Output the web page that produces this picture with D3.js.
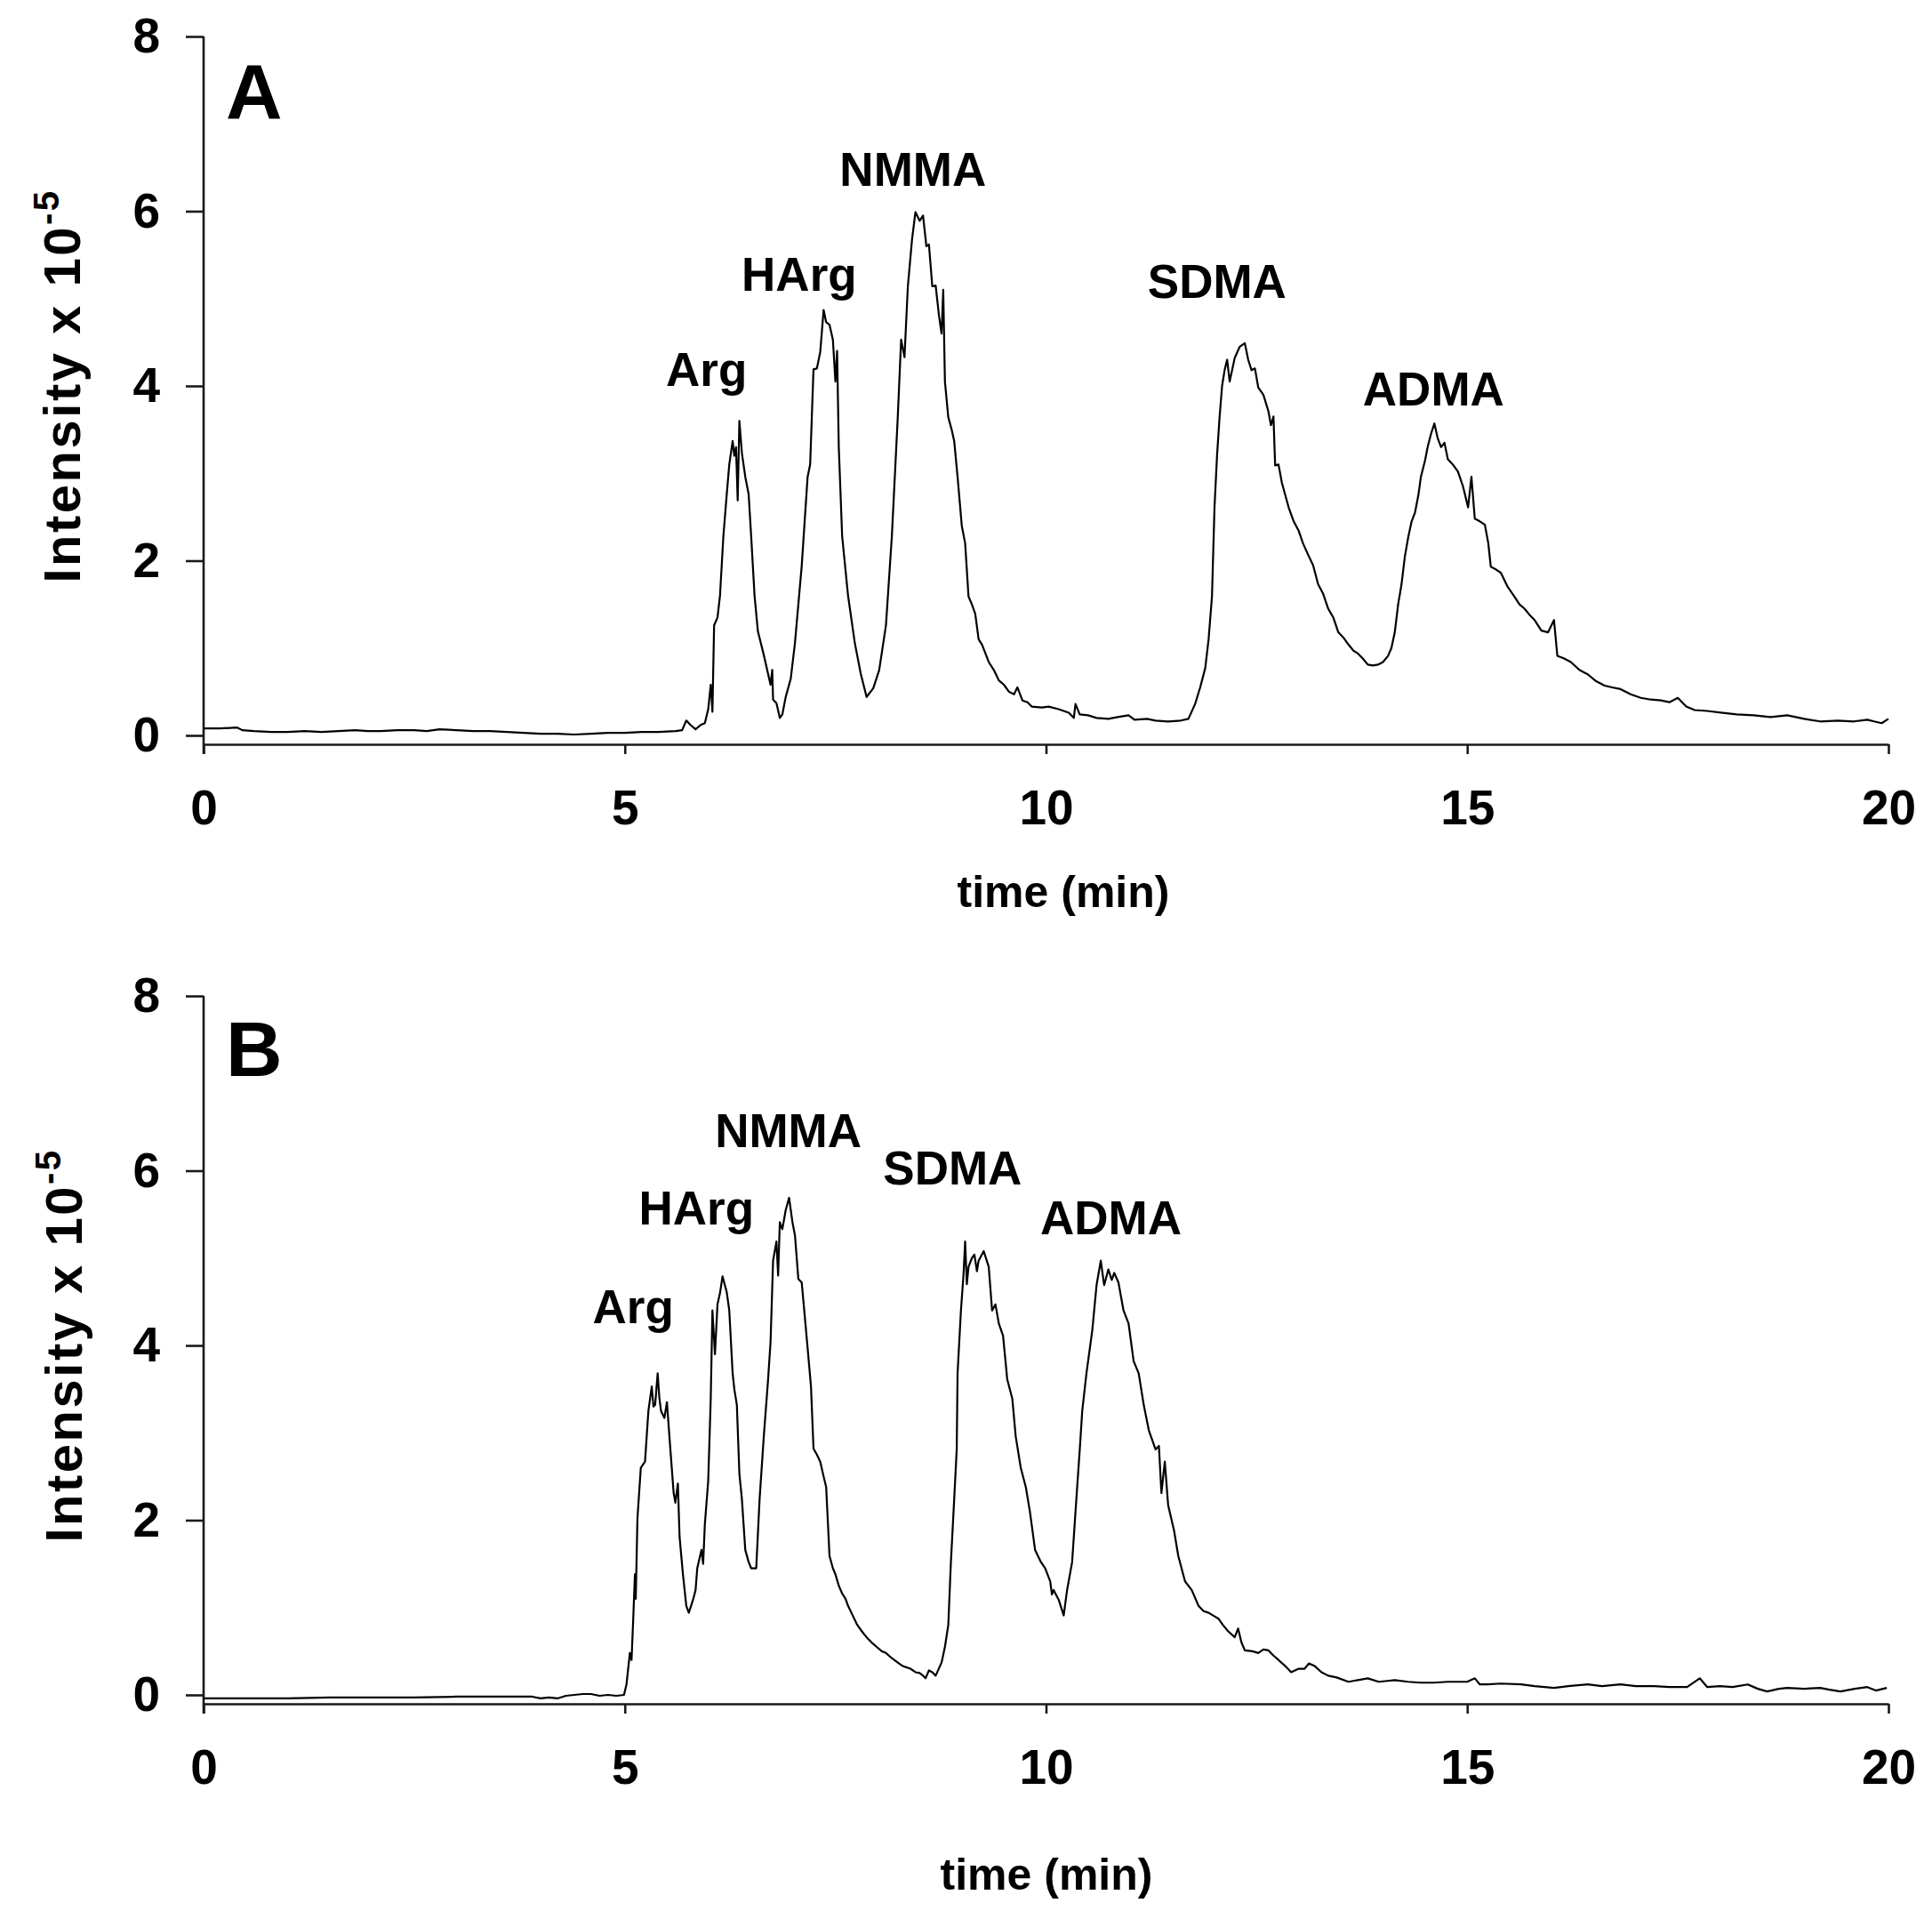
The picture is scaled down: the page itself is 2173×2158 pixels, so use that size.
<!DOCTYPE html>
<html>
<head>
<meta charset="utf-8">
<script src="https://cdn.jsdelivr.net/npm/d3@7"></script>
<style>
    body { margin: 0; background: #fff; }
    svg text { font-family: "Liberation Sans", Arial, Helvetica, sans-serif; font-weight: bold; fill: #000; }
</style>
</head>
<body>
<script>
// chromatogram A: [time (min), intensity x 10^-5]
var traceA = [[0,0.08],[0.2,0.08],[0.4,0.09],[0.46,0.06],[0.6,0.05],[0.8,0.04],[1.0,0.04],[1.2,0.05],[1.4,0.04],[1.6,0.05],[1.8,0.06],[1.95,0.05],[2.1,0.05],[2.3,0.06],[2.5,0.06],[2.65,0.05],[2.8,0.07],[3.0,0.06],[3.2,0.05],[3.4,0.05],[3.6,0.04],[3.8,0.03],[4.0,0.02],[4.2,0.02],[4.4,0.01],[4.6,0.02],[4.8,0.03],[5.0,0.03],[5.2,0.04],[5.4,0.04],[5.6,0.05],[5.68,0.06],[5.73,0.17],[5.78,0.12],[5.84,0.07],[5.9,0.12],[5.95,0.14],[5.99,0.3],[6.02,0.58],[6.04,0.27],[6.06,1.26],[6.1,1.35],[6.13,1.6],[6.17,2.28],[6.21,2.76],[6.24,3.1],[6.28,3.37],[6.3,3.2],[6.32,3.3],[6.34,2.69],[6.36,3.6],[6.39,3.23],[6.43,2.96],[6.47,2.76],[6.5,2.28],[6.54,1.6],[6.58,1.19],[6.65,0.92],[6.73,0.58],[6.75,0.75],[6.76,0.41],[6.8,0.37],[6.84,0.2],[6.87,0.24],[6.91,0.44],[6.97,0.65],[7.02,1.06],[7.1,1.94],[7.17,2.96],[7.2,3.1],[7.24,4.19],[7.28,4.2],[7.32,4.39],[7.36,4.87],[7.39,4.73],[7.43,4.7],[7.47,4.53],[7.5,4.05],[7.52,4.4],[7.54,3.3],[7.58,2.28],[7.65,1.6],[7.73,1.06],[7.8,0.71],[7.87,0.44],[7.95,0.54],[8.02,0.75],[8.1,1.26],[8.17,2.28],[8.24,3.64],[8.28,4.53],[8.32,4.33],[8.36,5.14],[8.41,5.68],[8.45,5.99],[8.5,5.89],[8.54,5.95],[8.58,5.6],[8.61,5.62],[8.65,5.14],[8.69,5.15],[8.73,4.8],[8.76,4.6],[8.78,5.1],[8.8,4.05],[8.84,3.64],[8.88,3.5],[8.91,3.37],[8.95,2.96],[9.0,2.4],[9.04,2.2],[9.08,1.59],[9.12,1.5],[9.16,1.39],[9.2,1.1],[9.24,1.04],[9.32,0.84],[9.38,0.75],[9.44,0.63],[9.5,0.58],[9.56,0.5],[9.62,0.47],[9.66,0.55],[9.72,0.4],[9.78,0.38],[9.83,0.33],[9.95,0.32],[10.03,0.33],[10.15,0.3],[10.27,0.26],[10.33,0.2],[10.35,0.36],[10.4,0.24],[10.5,0.23],[10.6,0.2],[10.74,0.19],[10.85,0.21],[10.98,0.23],[11.05,0.18],[11.2,0.19],[11.3,0.17],[11.45,0.16],[11.6,0.17],[11.69,0.19],[11.77,0.36],[11.83,0.55],[11.89,0.77],[11.93,1.1],[11.97,1.59],[12.0,2.61],[12.03,3.2],[12.06,3.64],[12.09,4.0],[12.12,4.18],[12.15,4.3],[12.18,4.05],[12.24,4.32],[12.3,4.45],[12.36,4.49],[12.4,4.3],[12.44,4.18],[12.48,4.2],[12.52,3.98],[12.58,3.9],[12.64,3.71],[12.67,3.55],[12.7,3.65],[12.72,3.09],[12.76,3.1],[12.8,2.89],[12.84,2.75],[12.88,2.61],[12.94,2.45],[13.0,2.34],[13.05,2.2],[13.11,2.07],[13.17,1.95],[13.23,1.73],[13.29,1.62],[13.35,1.45],[13.41,1.35],[13.47,1.18],[13.53,1.12],[13.59,1.04],[13.65,0.97],[13.7,0.94],[13.76,0.88],[13.82,0.81],[13.88,0.8],[13.94,0.81],[14.0,0.84],[14.06,0.91],[14.1,1.0],[14.14,1.18],[14.18,1.5],[14.22,1.73],[14.26,2.05],[14.3,2.27],[14.34,2.45],[14.38,2.55],[14.42,2.75],[14.45,2.96],[14.5,3.15],[14.53,3.3],[14.57,3.45],[14.61,3.57],[14.65,3.4],[14.69,3.3],[14.73,3.35],[14.77,3.16],[14.83,3.1],[14.89,3.02],[14.95,2.85],[15.01,2.61],[15.05,2.96],[15.09,2.48],[15.15,2.45],[15.21,2.41],[15.25,2.2],[15.28,1.93],[15.34,1.9],[15.4,1.86],[15.48,1.7],[15.56,1.59],[15.62,1.5],[15.68,1.45],[15.74,1.38],[15.8,1.32],[15.88,1.2],[15.96,1.18],[16.03,1.32],[16.07,0.91],[16.15,0.88],[16.23,0.84],[16.33,0.75],[16.43,0.7],[16.53,0.62],[16.63,0.57],[16.72,0.55],[16.82,0.53],[16.94,0.47],[17.06,0.43],[17.18,0.41],[17.3,0.4],[17.4,0.38],[17.5,0.43],[17.6,0.33],[17.7,0.29],[17.85,0.28],[18.01,0.26],[18.2,0.24],[18.4,0.23],[18.6,0.21],[18.8,0.23],[19.0,0.19],[19.19,0.16],[19.4,0.17],[19.59,0.16],[19.75,0.18],[19.83,0.16],[19.92,0.14],[20.0,0.19]];

// chromatogram B
var traceB = [[0,-0.04],[0.5,-0.04],[1.0,-0.04],[1.5,-0.03],[2.0,-0.03],[2.5,-0.03],[3.0,-0.02],[3.5,-0.02],[3.9,-0.02],[4.0,-0.04],[4.1,-0.03],[4.2,-0.04],[4.3,-0.01],[4.4,0.0],[4.5,0.01],[4.6,0.01],[4.7,-0.01],[4.8,0.0],[4.9,-0.01],[4.99,0.0],[5.02,0.12],[5.06,0.48],[5.08,0.4],[5.1,0.87],[5.12,1.38],[5.13,1.1],[5.15,2.02],[5.19,2.6],[5.24,2.67],[5.28,3.25],[5.32,3.53],[5.34,3.3],[5.36,3.32],[5.39,3.68],[5.41,3.4],[5.43,3.25],[5.47,3.17],[5.5,3.35],[5.54,2.82],[5.58,2.31],[5.6,2.2],[5.63,2.42],[5.65,1.81],[5.69,1.38],[5.73,1.02],[5.76,0.94],[5.81,1.09],[5.84,1.2],[5.86,1.45],[5.91,1.66],[5.93,1.5],[5.95,1.95],[5.99,2.45],[6.02,3.39],[6.04,4.4],[6.07,3.9],[6.1,4.47],[6.13,4.6],[6.16,4.79],[6.21,4.61],[6.24,4.4],[6.28,3.68],[6.3,3.5],[6.33,3.32],[6.36,2.53],[6.39,2.24],[6.43,1.66],[6.47,1.52],[6.5,1.45],[6.56,1.45],[6.6,2.24],[6.65,2.96],[6.7,3.6],[6.73,4.04],[6.76,4.97],[6.8,5.19],[6.82,4.8],[6.84,5.41],[6.87,5.33],[6.91,5.55],[6.95,5.69],[6.99,5.41],[7.02,5.26],[7.06,4.76],[7.1,4.72],[7.13,4.4],[7.17,3.97],[7.21,3.53],[7.24,2.82],[7.28,2.75],[7.32,2.67],[7.36,2.5],[7.39,2.38],[7.43,1.59],[7.47,1.45],[7.5,1.38],[7.54,1.25],[7.58,1.16],[7.62,1.1],[7.65,1.02],[7.7,0.92],[7.76,0.8],[7.82,0.72],[7.87,0.66],[7.93,0.6],[7.99,0.55],[8.05,0.5],[8.1,0.48],[8.17,0.42],[8.24,0.37],[8.3,0.33],[8.39,0.3],[8.45,0.26],[8.5,0.25],[8.54,0.22],[8.57,0.19],[8.61,0.28],[8.65,0.26],[8.69,0.22],[8.76,0.37],[8.8,0.55],[8.84,0.8],[8.87,1.5],[8.91,2.24],[8.94,2.81],[8.95,3.68],[8.99,4.4],[9.02,4.8],[9.04,5.19],[9.06,4.7],[9.08,4.9],[9.12,5.0],[9.15,5.04],[9.18,4.85],[9.2,4.97],[9.26,5.08],[9.32,4.9],[9.36,4.4],[9.4,4.47],[9.44,4.25],[9.49,4.11],[9.54,3.61],[9.6,3.39],[9.64,2.96],[9.7,2.6],[9.76,2.38],[9.81,2.09],[9.87,1.66],[9.94,1.52],[9.99,1.45],[10.05,1.3],[10.07,1.15],[10.09,1.2],[10.15,1.09],[10.21,0.91],[10.25,1.2],[10.31,1.52],[10.36,2.24],[10.4,2.8],[10.43,3.25],[10.48,3.68],[10.55,4.18],[10.6,4.69],[10.65,4.97],[10.69,4.69],[10.74,4.87],[10.78,4.75],[10.81,4.83],[10.86,4.72],[10.92,4.4],[10.98,4.25],[11.04,3.82],[11.1,3.68],[11.16,3.32],[11.22,3.03],[11.3,2.81],[11.34,2.85],[11.37,2.31],[11.41,2.67],[11.45,2.17],[11.52,1.88],[11.57,1.59],[11.65,1.3],[11.73,1.2],[11.81,1.02],[11.87,0.96],[11.93,0.94],[12.0,0.9],[12.05,0.87],[12.1,0.8],[12.16,0.73],[12.24,0.66],[12.28,0.76],[12.32,0.6],[12.36,0.51],[12.45,0.5],[12.52,0.48],[12.58,0.52],[12.64,0.51],[12.7,0.45],[12.76,0.4],[12.84,0.33],[12.91,0.26],[13.0,0.3],[13.07,0.3],[13.12,0.36],[13.19,0.33],[13.27,0.26],[13.35,0.22],[13.45,0.2],[13.59,0.15],[13.7,0.17],[13.82,0.19],[13.95,0.15],[14.05,0.16],[14.14,0.17],[14.3,0.15],[14.45,0.14],[14.6,0.14],[14.77,0.15],[14.9,0.15],[15.0,0.15],[15.09,0.19],[15.15,0.12],[15.24,0.12],[15.4,0.13],[15.64,0.12],[15.8,0.1],[16.03,0.08],[16.2,0.1],[16.43,0.12],[16.6,0.1],[16.82,0.12],[17.0,0.1],[17.22,0.1],[17.4,0.09],[17.61,0.09],[17.76,0.19],[17.85,0.09],[18.0,0.1],[18.15,0.09],[18.33,0.12],[18.45,0.07],[18.56,0.04],[18.7,0.07],[18.8,0.08],[19.0,0.07],[19.19,0.08],[19.3,0.06],[19.43,0.04],[19.6,0.07],[19.75,0.09],[19.85,0.05],[19.98,0.08]];

// peak names and where their labels sit (time, intensity of text baseline)
var peakNames = ["Arg", "HArg", "NMMA", "SDMA", "ADMA"];
var labelTimeA = [5.97, 7.07, 8.42, 12.03, 14.6];
var labelLevelA = [4.0, 5.09, 6.29, 5.01, 3.78];
var labelTimeB = [5.1, 5.85, 6.94, 8.89, 10.77];
var labelLevelB = [4.25, 5.38, 6.27, 5.84, 5.27];

var xTicks = [0, 5, 10, 15, 20];
var yTicks = [0, 2, 4, 6, 8];

var width = 2173,
    height = 2158;

var svg = d3.select("body").append("svg")
    .attr("width", width)
    .attr("height", height);

// both panels share the time axis
var x = d3.scaleLinear()
    .domain([0, 20])
    .range([229, 2124]);

function drawPanel(p) {
    var y = d3.scaleLinear()
        .domain([0, 8])
        .range([p.zero, p.top]);

    var g = svg.append("g");

    // x axis sits a little below the zero line
    var xAxis = d3.axisBottom(x)
        .tickValues(xTicks)
        .tickSize(11)
        .tickSizeOuter(0)
        .tickPadding(40);

    g.append("g")
        .attr("transform", "translate(0," + p.axis + ")")
        .call(xAxis)
        .call(function (a) {
            a.select(".domain").attr("stroke", "#1a1a1a").attr("stroke-width", 2.6);
            a.selectAll(".tick line").attr("stroke", "#1a1a1a").attr("stroke-width", 2.6);
            a.selectAll(".tick text").attr("font-size", 55).attr("fill", "#000");
        });

    var yAxis = d3.axisLeft(y)
        .tickValues(yTicks)
        .tickSize(20)
        .tickPadding(29);

    g.append("g")
        .attr("transform", "translate(229,0)")
        .call(yAxis)
        .call(function (a) {
            a.select(".domain").remove();
            a.selectAll(".tick line").attr("stroke", "#1a1a1a").attr("stroke-width", 2.6);
            a.selectAll(".tick text").attr("font-size", 55).attr("fill", "#000");
        });

    // vertical axis line runs down past the x axis
    g.append("line")
        .attr("x1", 229).attr("x2", 229)
        .attr("y1", y(8)).attr("y2", p.axis + 11)
        .attr("stroke", "#1a1a1a")
        .attr("stroke-width", 2.6);

    var line = d3.line()
        .x(function (d) { return x(d[0]); })
        .y(function (d) { return y(d[1]); });

    g.append("path")
        .datum(p.trace)
        .attr("d", line)
        .attr("fill", "none")
        .attr("stroke", "#000")
        .attr("stroke-width", 2.2)
        .attr("stroke-linejoin", "round");

    // peak labels
    g.selectAll(".peak")
        .data(peakNames)
        .enter()
        .append("text")
        .attr("class", "peak")
        .attr("x", function (d, i) { return x(p.labelTime[i]); })
        .attr("y", function (d, i) { return y(p.labelLevel[i]); })
        .attr("text-anchor", "middle")
        .attr("font-size", 53)
        .text(function (d) { return d; });

    // panel letter
    g.append("text")
        .attr("x", 254)
        .attr("y", p.letterY)
        .attr("font-size", 88)
        .text(p.letter);

    // axis titles
    g.append("text")
        .attr("x", p.titleX)
        .attr("y", p.titleY)
        .attr("text-anchor", "middle")
        .attr("font-size", 50)
        .text("time (min)");

    var yt = g.append("text")
        .attr("transform", "translate(" + p.yTitleX + "," + (p.top + p.zero) / 2 + ") rotate(-90)")
        .attr("text-anchor", "middle")
        .attr("font-size", 58)
        .attr("letter-spacing", 2.5);
    yt.append("tspan").text("Intensity x 10");
    yt.append("tspan")
        .attr("font-size", 40)
        .attr("dy", -24)
        .text("-5");
}

drawPanel({
    trace: traceA, top: 41, zero: 827, axis: 837,
    labelTime: labelTimeA, labelLevel: labelLevelA,
    letter: "A", letterY: 133,
    titleX: 1196, titleY: 1020, yTitleX: 90
});

drawPanel({
    trace: traceB, top: 1120, zero: 1906, axis: 1916,
    labelTime: labelTimeB, labelLevel: labelLevelB,
    letter: "B", letterY: 1210,
    titleX: 1177, titleY: 2125, yTitleX: 92
});
</script>
</body>
</html>
